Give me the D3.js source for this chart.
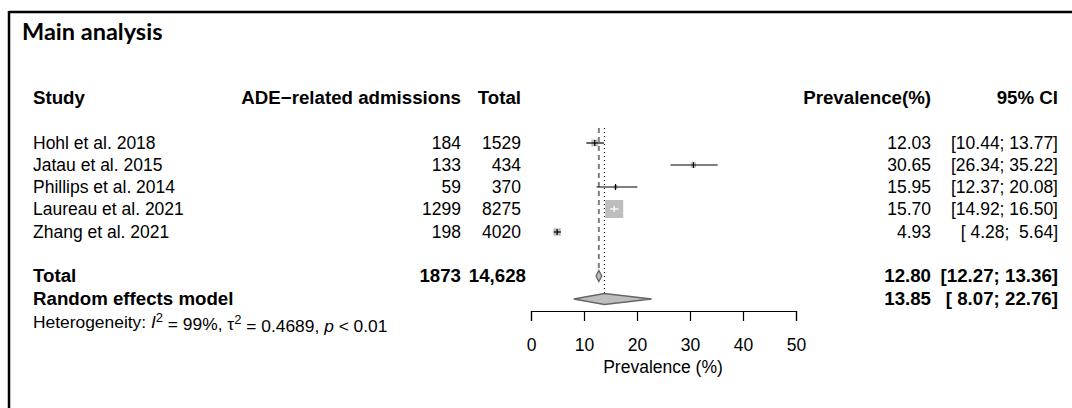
<!DOCTYPE html>
<html><head><meta charset="utf-8">
<script src="https://cdn.jsdelivr.net/npm/d3@7"></script>
<style>
html,body{margin:0;padding:0;background:#fff;}
text{font-family:"Liberation Sans",Arial,sans-serif;white-space:pre;}
</style></head>
<body>
<svg id="chart" width="1072" height="408"></svg>
<script>
const studies = ["Hohl et al. 2018","Jatau et al. 2015","Phillips et al. 2014","Laureau et al. 2021","Zhang et al. 2021"];
const events = ["184","133","59","1299","198"];
const totals = ["1529","434","370","8275","4020"];
const prevalence = [12.03, 30.65, 15.95, 15.70, 4.93];
const lower = [10.44, 26.34, 12.37, 14.92, 4.28];
const upper = [13.77, 35.22, 20.08, 16.50, 5.64];
const weights = [10.2, 5.8, 3.2, 69.0, 11.8];
const ciText = ["[10.44; 13.77]","[26.34; 35.22]","[12.37; 20.08]","[14.92; 16.50]","[ 4.28;  5.64]"];
const prevText = ["12.03","30.65","15.95","15.70","4.93"];
const headers = ["Study","ADE\u2212related admissions","Total","Prevalence(%)","95% CI"];
const totalRow = {label:"Total", events:"1873", total:"14,628", est:12.80, lo:12.27, hi:13.36, estText:"12.80", ciText:"[12.27; 13.36]"};
const randomRow = {label:"Random effects model", est:13.85, lo:8.07, hi:22.76, estText:"13.85", ciText:"[ 8.07; 22.76]"};
const xTicks = [0,10,20,30,40,50];
const title = "Main analysis";
const xLabel = "Prevalence (%)";

const svg = d3.select("#chart");
const fs = 17.5, fsb = 18.7;

// frame
svg.append("line").attr("x1",9).attr("x2",1072).attr("y1",12).attr("y2",12).attr("stroke","#000").attr("stroke-width",2.5);
svg.append("line").attr("x1",9).attr("x2",9).attr("y1",11).attr("y2",408).attr("stroke","#000").attr("stroke-width",2.5);

svg.append("text").attr("x",22).attr("y",32).attr("dy","0.35em")
  .style("font-family","Lato, 'Open Sans', sans-serif").style("font-weight","bold").style("font-size","23.5px").text(title);

const x = d3.scaleLinear().domain([0,50]).range([531,796]);
const rowY = [143,165,187,209,232];
const yTotal = 275, yRandom = 298, yHet = 322, yHeader = 97;
const size = d3.scaleSqrt().domain([0, d3.max(weights)]).range([0,18]);

// header
const hx = [{x:33,a:"start"},{x:461,a:"end"},{x:521,a:"end"},{x:931,a:"end"},{x:1058,a:"end"}];
headers.forEach((h,i)=>{
  svg.append("text").attr("x",hx[i].x).attr("y",yHeader).attr("dy","0.35em").attr("text-anchor",hx[i].a)
    .style("font-weight","bold").style("font-size",fsb+"px").text(h);
});

function rowText(y, vals, bold, shift){
  vals.forEach((v,i)=>{
    if(v==null) return;
    const dx = (shift && shift[i]) || 0;
    svg.append("text").attr("x",hx[i].x+dx).attr("y",y).attr("dy","0.35em").attr("text-anchor",hx[i].a)
      .style("font-weight",bold?"bold":"normal").style("font-size",(bold?fsb:fs)+"px").text(v);
  });
}
studies.forEach((s,i)=> rowText(rowY[i],[s,events[i],totals[i],prevText[i],ciText[i]],false));
rowText(yTotal,[totalRow.label,totalRow.events,totalRow.total,totalRow.estText,totalRow.ciText],true,[0,0,5,0,0]);
rowText(yRandom,[randomRow.label,null,null,randomRow.estText,randomRow.ciText],true);

// heterogeneity
const het = svg.append("text").attr("x",33).attr("y",yHet).attr("dy","0.35em").style("font-size","17.4px");
het.append("tspan").text("Heterogeneity: ");
het.append("tspan").style("font-style","italic").text("I");
het.append("tspan").attr("dy","-0.5em").style("font-size","13px").text("2");
het.append("tspan").attr("dy","0.5em").text(" = 99%, \u03c4");
het.append("tspan").attr("dy","-0.5em").style("font-size","13px").text("2");
het.append("tspan").attr("dy","0.5em").text(" = 0.4689, ");
het.append("tspan").style("font-style","italic").text("p");
het.append("tspan").text(" < 0.01");

// reference lines
svg.append("line").attr("x1",x(totalRow.est)).attr("x2",x(totalRow.est)).attr("y1",128).attr("y2",yTotal-6)
  .attr("stroke","#808080").attr("stroke-width",2).attr("stroke-dasharray","5,4");
svg.append("line").attr("x1",x(randomRow.est)).attr("x2",x(randomRow.est)).attr("y1",128).attr("y2",yRandom-5)
  .attr("stroke","#000").attr("stroke-width",1).attr("stroke-dasharray","1,3");

// study marks
studies.forEach((s,i)=>{
  const y = rowY[i], sz = size(weights[i]);
  const inside = (x(upper[i]) - x(lower[i])) < sz - 1 && i===3;
  svg.append("rect").attr("x",x(prevalence[i])-sz/2).attr("y",y-sz/2).attr("width",sz).attr("height",sz).attr("fill","#bebebe");
  const col = inside ? "#fff" : "#000";
  svg.append("line").attr("x1",x(lower[i])).attr("x2",x(upper[i])).attr("y1",y).attr("y2",y).attr("stroke",col).attr("stroke-width",1.2);
  svg.append("line").attr("x1",x(prevalence[i])).attr("x2",x(prevalence[i])).attr("y1",y-3).attr("y2",y+3).attr("stroke",col).attr("stroke-width",1.2);
});

// diamonds
function diamond(r, y, h){
  const pts = [[x(r.lo),y],[x(r.est),y-h],[x(r.hi),y],[x(r.est),y+h]];
  svg.append("path").attr("d","M"+pts.map(p=>p.join(",")).join("L")+"Z")
    .attr("fill","#bebebe").attr("stroke","#666").attr("stroke-width",1.3);
}
diamond(totalRow, yTotal+1, 5.5);
diamond(randomRow, yRandom+1, 5.5);

// axis
const axisG = svg.append("g").attr("transform","translate(0,311)")
  .call(d3.axisBottom(x).tickValues(xTicks).tickSize(10).tickPadding(18).tickFormat(d3.format("d")));
axisG.select(".domain").attr("stroke","#000").attr("stroke-width",1.2);
axisG.selectAll(".tick line").attr("stroke","#000").attr("stroke-width",1.2);
axisG.selectAll(".tick text").style("font-family","'Liberation Sans',Arial,sans-serif").style("font-size",fs+"px").attr("fill","#000");
svg.append("text").attr("x",663).attr("y",367).attr("dy","0.35em").attr("text-anchor","middle").style("font-size",fs+"px").text(xLabel);
</script>
</body></html>
